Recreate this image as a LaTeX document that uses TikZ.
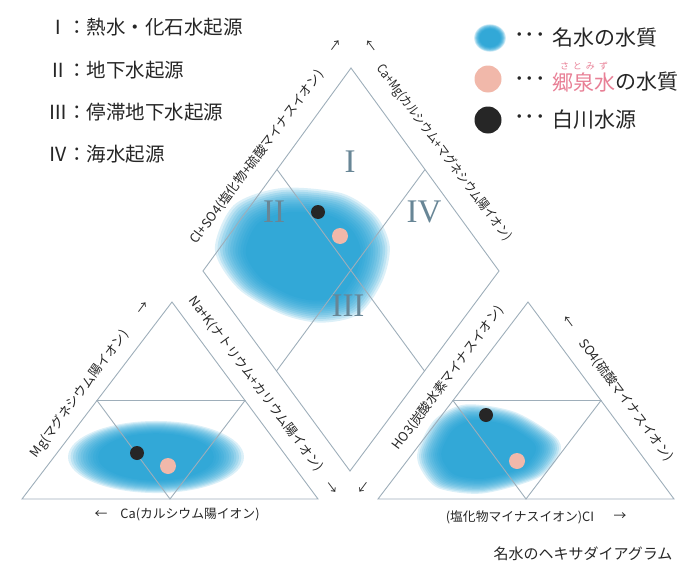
\documentclass[tikz,border=0pt]{standalone}
\usepackage{fontspec}
\setmainfont{Noto Sans CJK JP}
\newfontfamily\numfont{Liberation Serif}
\usepackage{xcolor}
\usepackage{tikz}
\usetikzlibrary{positioning, calc}
\definecolor{waterblue}{RGB}{22,156,210}
\definecolor{satopink}{RGB}{241,184,170}
\definecolor{rubypink}{RGB}{232,128,150}
\definecolor{edgegray}{RGB}{158,174,186}
\definecolor{numgray}{RGB}{104,134,150}
\definecolor{inkdark}{RGB}{38,38,38}

\begin{document}
\begin{tikzpicture}[
    x=1pt, y=-1pt,
    every node/.style={inner sep=0pt, outer sep=0pt, text=inkdark},
    edge/.style={draw=edgegray, line width=0.9pt},
    axislabel/.style={font=\fontsize{12.8}{14}\selectfont},
    narrowlabel/.style={font=\fontsize{12.8}{14}\selectfont\addfontfeatures{FakeStretch=0.87}},
    region/.style={font=\numfont\fontsize{33}{33}\selectfont, text=numgray},
    legendleft/.style={font=\fontsize{19.5}{22}\selectfont, anchor=west},
    legendright/.style={font=\fontsize{21}{24}\selectfont},
    ruby/.style={font=\fontsize{9}{10}\selectfont, text=rubypink},
    caption/.style={font=\fontsize{15}{17}\selectfont},
    blackdot/.style={circle, fill=inkdark, minimum size=14pt},
    pinkdot/.style={circle, fill=satopink, minimum size=16pt},
    haze/.style={fill=waterblue, opacity=0.15}
]

\useasboundingbox (0,0) rectangle (681,565);

% corners
\coordinate (dT) at (351,68);
\coordinate (dL) at (203,271);
\coordinate (dR) at (499,271);
\coordinate (dB) at (350,471);
\coordinate (lA) at (172,302);
\coordinate (lL) at (22,499);
\coordinate (lR) at (318,499);
\coordinate (rA) at (528,302);
\coordinate (rL) at (378,499);
\coordinate (rR) at (674,499);

% blue areas (soft edges)
\foreach \s in {1.06,1.03,...,0.68} {
  \fill[haze, scale around={\s:(305,258)}] plot[smooth cycle] coordinates
    {(220,250) (238,208) (283,192) (340,197) (372,218) (385,247)
     (378,280) (356,311) (320,319) (283,311) (242,287)};
  \fill[haze, scale around={\s:(156,457)}] (156,457) ellipse (83 and 34);
  \fill[haze, scale around={\s:(488,450)}] plot[smooth cycle] coordinates
    {(422,450) (438,421) (467,407) (513,414) (551,437) (556,453)
     (536,476) (483,491) (441,486) (424,467)};
  \fill[haze, scale around={\s:(490,38)}] (490,38) ellipse (15 and 13);
}

% diamond
\draw[edge] (dT) -- (dR) -- (dB) -- (dL) -- cycle;
\draw[edge] ($(dT)!.5!(dL)$) -- ($(dR)!.5!(dB)$);
\draw[edge] ($(dT)!.5!(dR)$) -- ($(dL)!.5!(dB)$);

% cation triangle
\draw[edge] (lA) -- (lR) -- (lL) -- cycle;
\draw[edge] ($(lA)!.5!(lL)$) -- ($(lA)!.5!(lR)$) -- ($(lL)!.5!(lR)$) -- cycle;

% anion triangle
\draw[edge] (rA) -- (rR) -- (rL) -- cycle;
\draw[edge] ($(rA)!.5!(rL)$) -- ($(rA)!.5!(rR)$) -- ($(rL)!.5!(rR)$) -- cycle;

% samples
\node[blackdot] (dblack) at (318,212) {};
\node[pinkdot] (dpink) at (340,236) {};
\node[blackdot] (lblack) at (137,453) {};
\node[pinkdot] (lpink) at (168,466) {};
\node[blackdot] (rblack) at (486,415) {};
\node[pinkdot] (rpink) at (517,461) {};

% regions
\node[region] (regI) at (350,162) {I};
\node[region] (regII) at (274,212) {II};
\node[region] (regIII) at (348,306) {III};
\node[region] (regIV) at (424,212) {IV};

% axis labels
\node[axislabel, rotate=53.3] (clso) at (257,157) {Cl+SO4(塩化物+硫酸マイナスイオン)};
\node[narrowlabel, rotate=-53.3] (camg) at (444,153) {Ca+Mg(カルシウム+マグネシウム陽イオン)};
\node[axislabel, rotate=53.3] (mg) at (80,394) {Mg(マグネシウム陽イオン)};
\node[axislabel, rotate=-53.3] (nak) at (256,384) {Na+K(ナトリウム+カリウム陽イオン)};
\node[axislabel, rotate=53.3] (hco) at (448,378) {HO3(炭酸水素マイナスイオン)};
\node[axislabel, rotate=-53.3] (so) at (626,400) {SO4(硫酸マイナスイオン)};
\node[axislabel] (ca) at (190,515) {Ca(カルシウム陽イオン)};
\node[axislabel] (cl) at (520,517) {(塩化物マイナスイオン)CI};

% axis arrows
\node[axislabel, rotate=53.3] (clsoarr) at (336,46) {→};
\node[axislabel, rotate=-53.3] (camgarr) at (370,46) {←};
\node[axislabel, rotate=53.3] (mgarr) at (143,308) {→};
\node[axislabel, rotate=-53.3] (nakarr) at (331,488) {→};
\node[axislabel, rotate=53.3] (hcoarr) at (364,488) {←};
\node[axislabel, rotate=-53.3] (soarr) at (568,322) {←};
\node[axislabel] (caarr) at (101,515) {←};
\node[axislabel] (clarr) at (620,517) {→};

% legend left
\node[legendleft] (origin1) at (48,27) {Ⅰ：熱水・化石水起源};
\node[legendleft] (origin2) at (48,70) {Ⅱ：地下水起源};
\node[legendleft] (origin3) at (48,112) {Ⅲ：停滞地下水起源};
\node[legendleft] (origin4) at (48,154) {Ⅳ：海水起源};

% legend right
\node[pinkdot, minimum size=27pt] (keypink) at (488,79) {};
\node[blackdot, minimum size=27pt] (keyblack) at (488,120) {};
\node[legendright, anchor=west] (dots1) at (514,38) {･･･};
\node[legendright, anchor=west] (dots2) at (514,82) {･･･};
\node[legendright, anchor=west] (dots3) at (514,120) {･･･};
\node[legendright, right=7pt of dots1] (key1) {名水の水質};
\node[legendright, right=7pt of dots2, text=rubypink] (key2a) {郷泉水};
\node[legendright, right=0pt of key2a] (key2b) {の水質};
\node[ruby, above=2pt of key2a] (key2ruby) {さ\hspace{4pt}と\hspace{4pt}み\hspace{4pt}ず};
\node[legendright, right=7pt of dots3] (key3) {白川水源};

% caption
\node[caption] (title) at (583,554) {名水のヘキサダイアグラム};

\end{tikzpicture}
\end{document}
